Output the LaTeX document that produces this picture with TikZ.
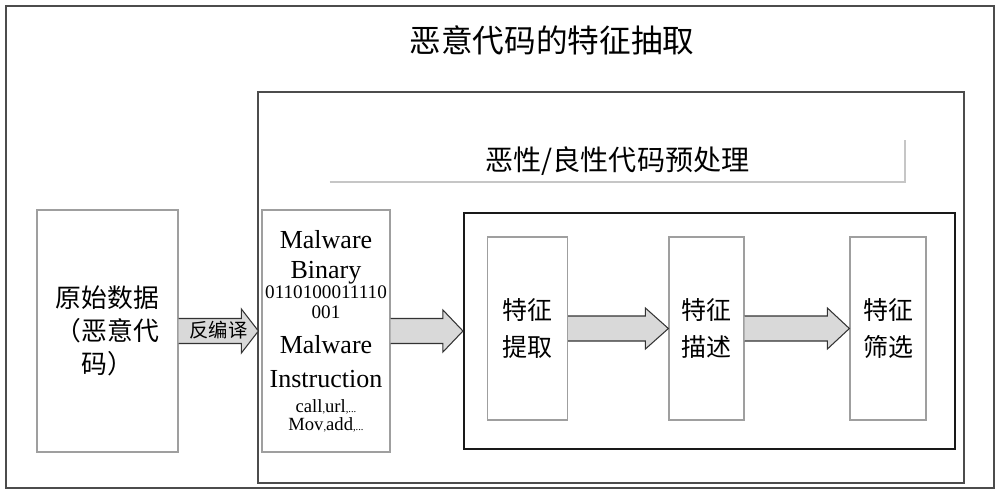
\documentclass[tikz,border=0pt]{standalone}
\usepackage{fontspec}
\setmainfont{Liberation Serif}
\newfontfamily\cjk{Noto Sans CJK SC}
\usetikzlibrary{calc}

% one pixel of the layout
\def\pxu{0.02cm}

\tikzset{
  frame/.style={draw=black!70, line width=1.1pt, inner sep=0pt},
  box/.style={draw=gray!75, line width=0.7pt, inner sep=0pt, align=center},
  darkbox/.style={draw=black!90, line width=1.2pt, inner sep=0pt},
  fatarrow/.style={draw=black!80, line width=0.6pt, fill=gray!30, line join=miter},
  shadeline/.style={draw=gray!45, line width=1.1pt},
  mwbig/.style={anchor=base, inner sep=0pt, font=\fontsize{14.8}{17}\selectfont},
  mwsmall/.style={anchor=base, inner sep=0pt, font=\fontsize{10.9}{13}\selectfont},
  mwtiny/.style={anchor=base, inner sep=0pt, font=\fontsize{10.6}{12}\selectfont}
}

% block arrow: start, tip, head length, head half-height
\newcommand{\fatarrow}[4]{%
  \draw[fatarrow] ($(#1)+(0,12.5)$) -- ($(#2)+(-#3,12.5)$) -- ($(#2)+(-#3,#4)$) -- (#2)
    -- ($(#2)+(-#3,-#4)$) -- ($(#2)+(-#3,-12.5)$) -- ($(#1)+(0,-12.5)$);
}
\newcommand{\tinysep}[1]{{\fontsize{6}{7}\selectfont #1}}

\begin{document}
\begin{tikzpicture}[x=0.02cm, y=-0.02cm]
\useasboundingbox (0,0) rectangle (1000,495);

% frames
\node[frame, minimum width=988*\pxu, minimum height=482*\pxu] (outer) at (500,247) {};
\node[frame, minimum width=706*\pxu, minimum height=391*\pxu] (inner) at (611,287.5) {};
\node[darkbox, minimum width=491*\pxu, minimum height=236*\pxu] (featbox) at (709.5,331) {};

% titles
\node[font=\cjk\fontsize{18}{22}\selectfont] (title) at (552,40) {恶意代码的特征抽取};
\node[minimum width=575*\pxu, minimum height=36*\pxu, font=\cjk\fontsize{16}{19}\selectfont] (sub) at (617.5,161) {恶性/良性代码预处理};
\draw[shadeline] (sub.south west) -| (sub.north east);

% raw data and disassembly
\node[box, minimum width=141*\pxu, minimum height=242*\pxu, font=\cjk\fontsize{14.7}{18.8}\selectfont] (raw) at (107.5,331) {原始数据\\（恶意代\\码）};
\node[box, minimum width=128*\pxu, minimum height=242*\pxu] (malware) at (326,331) {};

\node[mwbig] (mw1) at (326,248) {Malware};
\node[mwbig] (mw2) at (326,278) {Binary};
\node[mwsmall] (mw3) at (326,298) {0110100011110};
\node[mwsmall] (mw4) at (326,318) {001};
\node[mwbig] (mw5) at (326,353) {Malware};
\node[mwbig] (mw6) at (326,387) {Instruction};
\node[mwtiny] (mw7) at (326,412) {call\tinysep{,}url\tinysep{,...}};
\node[mwtiny] (mw8) at (326,430) {Mov\tinysep{,}add\tinysep{,...}};

% feature steps
\node[box, minimum width=80*\pxu, minimum height=183*\pxu, font=\cjk\fontsize{14.2}{21}\selectfont] (f1) at (527.5,328.5) {特征\\提取};
\node[box, minimum width=75*\pxu, minimum height=183*\pxu, font=\cjk\fontsize{14.2}{21}\selectfont] (f2) at (706.5,328.5) {特征\\描述};
\node[box, minimum width=76*\pxu, minimum height=183*\pxu, font=\cjk\fontsize{14.2}{21}\selectfont] (f3) at (888,328.5) {特征\\筛选};

% arrows
\coordinate[xshift=-0.06cm] (tipA) at (raw.east -| malware.west);
\coordinate (tipB) at (malware.east -| featbox.west);
\coordinate (tipC) at (f1.east -| f2.west);
\coordinate (tipD) at (f2.east -| f3.west);

\fatarrow{raw.east}{tipA}{17}{22}
\fatarrow{malware.east}{tipB}{20}{21}
\fatarrow{f1.east}{tipC}{23}{20.5}
\fatarrow{f2.east}{tipD}{22}{20.5}

\node[font=\cjk\fontsize{11}{13}\selectfont, inner sep=0pt] (decomp) at ($(raw.east)!0.5!(tipA)+(0,-1)$) {反编译};

\end{tikzpicture}
\end{document}
